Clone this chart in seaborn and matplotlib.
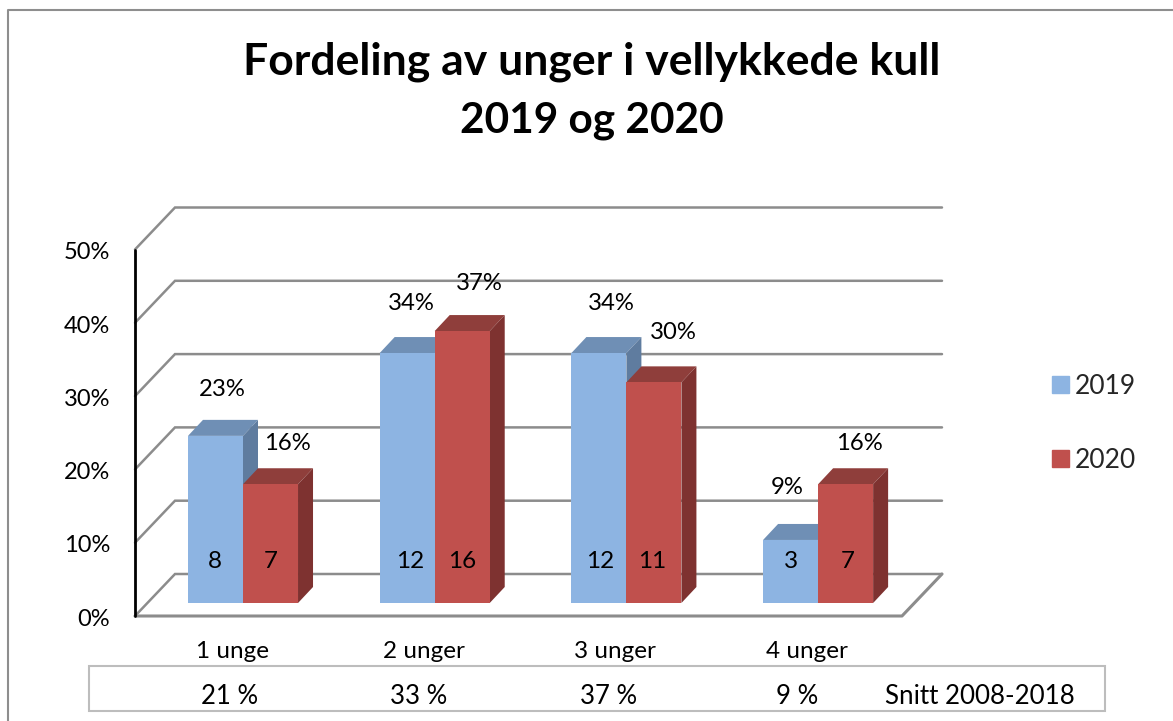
import seaborn as sns
import pandas as pd
import matplotlib.pyplot as plt
from matplotlib.patches import Rectangle
from matplotlib.lines import Line2D

categories = ['1 unge', '2 unger', '3 unger', '4 unger']
pct_2019 = [22.8, 34.1, 34.1, 8.6]
pct_2020 = [16.2, 37.1, 30.1, 16.2]
count_2019 = [8, 12, 12, 3]
count_2020 = [7, 16, 11, 7]
snitt = ['21 %', '33 %', '37 %', '9 %']
yticks = [0, 10, 20, 30, 40, 50]
title_1 = 'Fordeling av unger i vellykkede kull'
title_2 = '2019 og 2020'

W, H = 1173, 721
X0, XS = 243, 191.7   # pixel of category 0 and pixels per category
Y0, YS = 603, 7.33    # pixel of 0% on the bar plane and pixels per percent

def px(x):
    return (x - X0) / XS

def py(y):
    return (Y0 - y) / YS

BLUE, RED = '#8DB4E2', '#C0504D'
BLUE_TOP, BLUE_SIDE = '#6F8FB5', '#5F7C9F'
RED_TOP, RED_SIDE = '#8F3E3B', '#7E3230'
GRID = '#8C8C8C'

sns.set_theme(style='white')
plt.rcParams['font.family'] = ['Lato', 'DejaVu Sans']

fig = plt.figure(figsize=(W / 100, H / 100), dpi=100)
ax = fig.add_axes([0, 0, 1, 1])

df = pd.DataFrame({
    'kull': categories * 2,
    'pct': pct_2019 + pct_2020,
    'aar': ['2019'] * 4 + ['2020'] * 4,
})
sns.barplot(data=df, x='kull', y='pct', hue='aar', palette=[BLUE, RED],
            width=0.574, gap=0, dodge=True, saturation=1, legend=False,
            linewidth=0, edgecolor='none', zorder=5, ax=ax)
ax.set_xlim(px(0), px(W))
ax.set_ylim(py(H), py(0))
ax.axis('off')

# fake 3D walls, floor and gridlines
fx0, fx1, bx0, bx1 = px(135), px(902), px(175), px(942)
fy, by = py(616), py(574)
for t in yticks:
    ax.plot([fx0, bx0, bx1], [t + fy, t + by, t + by], color=GRID, lw=1.8,
            solid_joinstyle='miter', zorder=1)
    ax.text(px(110), t + fy - 0.45, f'{t}%', ha='right', va='center', fontsize=17, color='black')
ax.plot([fx0, fx1, bx1], [fy, fy, by], color=GRID, lw=2.2, zorder=1.5)
ax.plot([fx0, fx0], [fy, 50 + fy], color='black', lw=2, zorder=2)

# depth of the bars
dx, dy = 15 / XS, 16 / YS
shades = [(BLUE_TOP, BLUE_SIDE, 3), (RED_TOP, RED_SIDE, 4)]
for cont, (top, side, z) in zip(ax.containers, shades):
    for bar in cont:
        x0, x1, h = bar.get_x(), bar.get_x() + bar.get_width(), bar.get_height()
        ax.fill([x0, x1, x1 + dx, x0 + dx], [h, h, h + dy, h + dy], color=top, lw=0, zorder=z)
        ax.fill([x1, x1 + dx, x1 + dx, x1], [0, dy, h + dy, h], color=side, lw=0, zorder=z)

# percent labels sit at hand-placed offsets from the bar top, in pixels
off_2019 = [(7, 46), (4, 50), (12, 50), (-3, 52)]
off_2020 = [(17, 41), (17, 48), (19, 50), (14, 41)]
cnt_shift = [[-1, 0], [3, 0], [1, -2], [0, 2]]
for i, cont in enumerate(ax.containers):
    pcts = [pct_2019, pct_2020][i]
    cnts = [count_2019, count_2020][i]
    offs = [off_2019, off_2020][i]
    for j, bar in enumerate(cont):
        cx = bar.get_x() + bar.get_width() / 2
        ax.text(cx + offs[j][0] / XS, pcts[j] + offs[j][1] / YS, f'{pcts[j]:.0f}%',
                ha='center', va='center', fontsize=17.2, color='black', zorder=6)
        ax.text(cx + cnt_shift[j][i] / XS, py(562), str(cnts[j]),
                ha='center', va='center', fontsize=17.5, color='black', zorder=6)

for j, c in enumerate(categories):
    ax.text(j - 11 / XS, py(652), c, ha='center', va='center', fontsize=17.5, color='black')
snitt_x = [230, 419, 609, 797]
for s, x in zip(snitt, snitt_x):
    fig.text(x / W, 1 - 697 / H, s, ha='center', va='center', fontsize=18.5, color='black')
fig.text(980 / W, 1 - 696 / H, 'Snitt 2008-2018', ha='center', va='center', fontsize=18.7, color='black')

fig.text(592 / W, 1 - 62 / H, title_1, ha='center', va='center', fontsize=32, fontweight='bold', color='black')
fig.text(592 / W, 1 - 121 / H, title_2, ha='center', va='center', fontsize=30.5, fontweight='bold', color='black')

handles = [Rectangle((0, 0), 1, 1, color=BLUE), Rectangle((0, 0), 1, 1, color=RED)]
fig.legend(handles, ['2019', '2020'], loc='upper left', bbox_to_anchor=(1044 / W, 1 - 366 / H),
           frameon=False, fontsize=19, handlelength=0.65, handleheight=0.65,
           handletextpad=0.2, labelspacing=1.85, borderpad=0.3, borderaxespad=0)

# outer chart border and the Snitt box
fig.add_artist(Line2D([7.5 / W, 7.5 / W, 1], [0, 1 - 9.5 / H, 1 - 9.5 / H], color='#8E8E8E', lw=1.5))
fig.add_artist(Rectangle((89 / W, 1 - 711 / H), 1016 / W, 45 / H, transform=fig.transFigure,
                         fill=False, edgecolor='#BDBDBD', lw=1.5))

fig.savefig('out.png', dpi=100)
